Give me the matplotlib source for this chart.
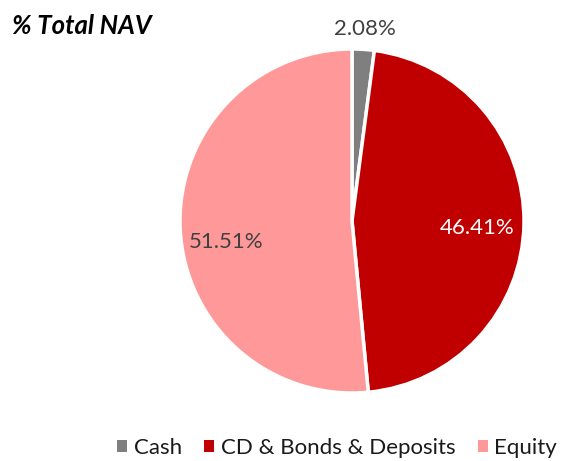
import matplotlib
matplotlib.use("Agg")
import matplotlib.pyplot as plt
from matplotlib.patches import Patch

categories = ["Cash", "CD & Bonds & Deposits", "Equity"]
values = [2.08, 46.41, 51.51]
colors = ["#7F7F7F", "#C00000", "#FF9999"]
label_colors = ["#404040", "#FFFFFF", "#404040"]

plt.rcParams['font.family'] = ['Lato', 'DejaVu Sans']

fig = plt.figure(figsize=(5.62, 4.61), dpi=100)
W, H = 562, 461
cx, cy, r = 352, 221, 172
ax = fig.add_axes([(cx - r) / W, 1 - (cy + r) / H, 2 * r / W, 2 * r / H])

wedges, texts, autotexts = ax.pie(
    values, colors=colors, startangle=90, counterclock=False,
    autopct=lambda p: f"{p:.2f}%", pctdistance=0.73,
    wedgeprops=dict(edgecolor="white", linewidth=2.5),
    textprops=dict(fontsize=16))
for t, c in zip(autotexts, label_colors):
    t.set_color(c)
# cash label outside
x, y = autotexts[0].get_position()
autotexts[0].set_position((x * 1.12 / 0.73, y * 1.12 / 0.73))
x, y = autotexts[1].get_position()
autotexts[1].set_position((x, y - 0.03))
x, y = autotexts[2].get_position()
autotexts[2].set_position((x, y - 0.09))
ax.set_xlim(-1, 1)
ax.set_ylim(-1, 1)
ax.set_aspect('equal')

fig.text(12 / W, 1 - 26 / H, "% Total NAV", fontsize=18.5, fontweight='bold',
         fontstyle='italic', va='center', ha='left', color='black')

handles = [Patch(facecolor=c, edgecolor='none') for c in colors]
fig.legend(handles, categories, loc='center left', bbox_to_anchor=(117 / W, 1 - 448 / H),
           ncol=3, frameon=False, fontsize=16, handlelength=0.45, handleheight=0.45,
           handletextpad=0.3, columnspacing=1.0, labelcolor='#1a1a1a',
           borderpad=0, borderaxespad=0)

fig.savefig("out.png", dpi=100)
